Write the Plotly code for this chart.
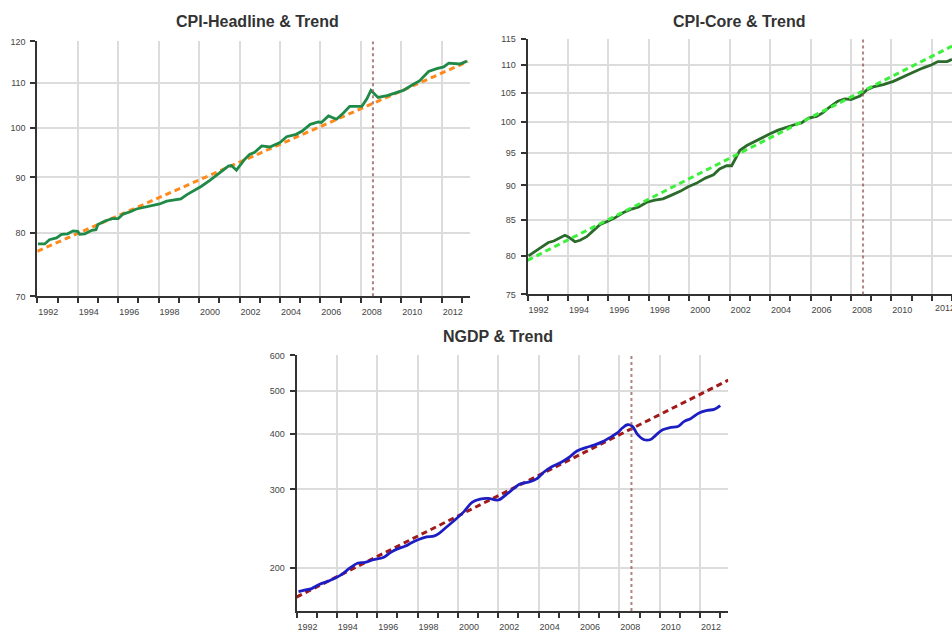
import plotly.graph_objects as go
import math

# ---------------- data (decimal years) ----------------
headline_year = [1992.03, 1992.37, 1992.6, 1992.95, 1993.2, 1993.5, 1993.77, 1994.0, 1994.1, 1994.35,
                 1994.7, 1994.9, 1995.0, 1995.35, 1995.7, 1996.0, 1996.25, 1996.6, 1996.9, 1997.3,
                 1997.7, 1998.05, 1998.4, 1998.9, 1999.1, 1999.4, 1999.8, 2000.1, 2000.55, 2000.9,
                 2001.1, 2001.45, 2001.6, 2001.85, 2002.25, 2002.5, 2002.75, 2003.1, 2003.5, 2004.0,
                 2004.33, 2004.8, 2005.1, 2005.5, 2005.9, 2006.05, 2006.4, 2006.8, 2007.15, 2007.45,
                 2008.05, 2008.3, 2008.5, 2008.85, 2009.3, 2009.8, 2010.1, 2010.6, 2010.9, 2011.35,
                 2011.75, 2012.1, 2012.35, 2012.9, 2013.25]
headline_val = [78.2, 78.2, 78.9, 79.2, 79.8, 79.9, 80.4, 80.3, 79.8, 79.9,
                80.5, 80.6, 81.5, 82.1, 82.5, 82.5, 83.3, 83.7, 84.2, 84.5,
                84.8, 85.1, 85.6, 85.8, 86.0, 86.8, 87.7, 88.3, 89.5, 90.6,
                91.1, 92.2, 92.3, 91.4, 93.5, 94.5, 94.9, 96.2, 96.0, 96.9,
                98.1, 98.6, 99.3, 100.7, 101.2, 101.1, 102.5, 101.8, 103.2, 104.6,
                104.6, 106.3, 108.2, 106.6, 107.0, 107.8, 108.2, 109.6, 110.4, 112.6,
                113.3, 113.7, 114.6, 114.4, 115.1]
headline_trend_year = [1992.0, 2013.3]
headline_trend_val = [77.0, 115.0]

core_year = [1992.05, 1992.45, 1992.7, 1993.03, 1993.3, 1993.6, 1993.85, 1994.0, 1994.35, 1994.6,
             1994.93, 1995.2, 1995.6, 1996.0, 1996.3, 1996.75, 1997.15, 1997.5, 1997.9, 1998.3,
             1998.7, 1999.1, 1999.55, 1999.95, 2000.35, 2000.8, 2001.2, 2001.5, 2001.85, 2002.1,
             2002.5, 2002.85, 2003.25, 2003.65, 2004.0, 2004.4, 2004.8, 2005.2, 2005.55, 2005.9,
             2006.3, 2006.6, 2006.95, 2007.35, 2007.7, 2008.0, 2008.45, 2008.8, 2009.1, 2009.6,
             2010.1, 2010.5, 2011.0, 2011.55, 2012.0, 2012.3, 2012.75, 2013.0]
core_val = [80.0, 80.7, 81.2, 81.8, 82.0, 82.4, 82.8, 82.6, 81.9, 82.1,
            82.6, 83.3, 84.3, 84.8, 85.2, 86.0, 86.5, 86.8, 87.5, 87.8,
            88.0, 88.5, 89.1, 89.8, 90.3, 91.1, 91.6, 92.5, 93.0, 93.0,
            95.4, 96.2, 96.9, 97.6, 98.1, 98.7, 99.2, 99.6, 99.9, 100.7,
            101.0, 101.6, 102.6, 103.6, 104.0, 103.9, 104.5, 105.6, 106.1, 106.5,
            107.1, 107.7, 108.6, 109.5, 110.1, 110.7, 110.7, 111.1]
core_trend_year = [1992.0, 2013.0]
core_trend_val = [79.4, 113.6]

ngdp_year = [1992.1, 1992.4, 1992.75, 1993.15, 1993.6, 1993.9, 1994.25, 1994.65, 1995.05, 1995.4,
             1995.8, 1996.3, 1996.65, 1996.95, 1997.4, 1997.7, 1998.05, 1998.45, 1998.8, 1999.05,
             1999.45, 1999.85, 2000.3, 2000.7, 2001.1, 2001.5, 2002.0, 2002.45, 2002.75, 2003.1,
             2003.5, 2003.9, 2004.25, 2004.65, 2005.1, 2005.5, 2005.9, 2006.3, 2006.75, 2007.15,
             2007.5, 2007.9, 2008.15, 2008.4, 2008.65, 2008.9, 2009.2, 2009.55, 2009.8, 2010.15,
             2010.55, 2010.9, 2011.2, 2011.55, 2011.95, 2012.35, 2012.7, 2013.0]
ngdp_val = [176.9, 178.2, 179.7, 183.8, 186.9, 189.5, 193.4, 200.0, 205.1, 205.8,
            208.6, 211.0, 216.4, 220.1, 223.9, 227.7, 231.6, 234.8, 235.6, 238.8,
            247.4, 256.2, 267.5, 280.7, 285.5, 286.5, 284.1, 293.6, 301.1, 308.9,
            311.5, 316.8, 327.9, 337.5, 344.9, 353.9, 366.0, 372.1, 377.3, 383.7,
            391.6, 401.8, 412.2, 419.2, 415.7, 398.8, 388.5, 388.5, 397.0, 408.4,
            413.4, 415.4, 426.1, 433.2, 445.7, 451.6, 453.9, 462.9]
ngdp_trend_year = [1992.0, 2013.4]
ngdp_trend_val = [172.0, 528.0]

break_year = 2008.6

titles = ["CPI-Headline & Trend", "CPI-Core & Trend", "NGDP & Trend"]
headline_ticks = [70, 80, 90, 100, 110, 120]
core_ticks = [75, 80, 85, 90, 95, 100, 105, 110, 115]
ngdp_ticks = [200, 300, 400, 500, 600]
year_ticks = list(range(1992, 2014, 2))

# ---------------- figure ----------------
W, H = 952, 637
FONT = "Liberation Sans, Arial, sans-serif"
TICKFONT = dict(family=FONT, size=9, color="#444444")
fig = go.Figure()

dash = "6px,4px"
fig.add_trace(go.Scatter(x=headline_trend_year, y=headline_trend_val, mode="lines",
                         line=dict(color="#ff8a1c", width=3, dash=dash), xaxis="x", yaxis="y"))
fig.add_trace(go.Scatter(x=headline_year, y=headline_val, mode="lines",
                         line=dict(color="#1f8a47", width=2.8), xaxis="x", yaxis="y"))
fig.add_trace(go.Scatter(x=core_year, y=core_val, mode="lines",
                         line=dict(color="#2c6a2c", width=2.8), xaxis="x2", yaxis="y2"))
fig.add_trace(go.Scatter(x=core_trend_year, y=core_trend_val, mode="lines",
                         line=dict(color="#3cf03c", width=3, dash=dash), xaxis="x2", yaxis="y2"))
fig.add_trace(go.Scatter(x=ngdp_trend_year, y=ngdp_trend_val, mode="lines",
                         line=dict(color="#a11a1a", width=3, dash=dash), xaxis="x3", yaxis="y3"))
fig.add_trace(go.Scatter(x=ngdp_year, y=ngdp_val, mode="lines", line_shape="spline",
                         line=dict(color="#1d1dc4", width=2.8), xaxis="x3", yaxis="y3"))


def px_x(a, b):
    return [a / W, b / W]


def px_y(top, bottom):
    return [(H - bottom) / H, (H - top) / H]


axis_common = dict(showline=True, linecolor="#333333", linewidth=2, ticks="outside",
                   ticklen=5, tickwidth=1.5, tickcolor="#333333",
                   gridcolor="#dcdcdc", gridwidth=2, showgrid=True, zeroline=False,
                   tickfont=TICKFONT, fixedrange=True)


def xaxis(domain, rng, anchor):
    return dict(axis_common, domain=domain, range=rng, anchor=anchor,
                tickmode="array", tickvals=year_ticks, ticktext=[str(y) for y in year_ticks],
                ticklabelshift=11, ticklabelstandoff=1,
                minor=dict(tickmode="linear", tick0=1993, dtick=2, ticks="outside",
                           ticklen=5, tickwidth=1.5, tickcolor="#333333", showgrid=False))


def yaxis(domain, lo, hi, vals, anchor):
    return dict(axis_common, domain=domain, type="log",
                range=[math.log10(lo), math.log10(hi)], anchor=anchor,
                tickmode="array", tickvals=vals, ticktext=[str(v) for v in vals],
                ticklabelstandoff=3)


fig.update_layout(
    width=W, height=H, margin=dict(l=0, r=0, t=0, b=0),
    paper_bgcolor="white", plot_bgcolor="white", showlegend=False,
    xaxis=xaxis(px_x(37.3, 470), [1992, 2013.4], "y"),
    yaxis=yaxis(px_y(37, 296), 70, 120, headline_ticks, "x"),
    xaxis2=xaxis(px_x(527.5, 952), [1992, 2013.0], "y2"),
    yaxis2=yaxis(px_y(34.3, 294), 75, 115, core_ticks, "x2"),
    xaxis3=xaxis(px_x(296.5, 728.3), [1992, 2013.4], "y3"),
    yaxis3=yaxis(px_y(356, 615.7), 160, 600, ngdp_ticks, "x3"),
)

# last year label of the right-hand chart, which runs past the page edge
fig.add_annotation(text=str(year_ticks[-1]), x=year_ticks[-1], xref="x2", y=0, yref="y2 domain",
                   xanchor="left", yanchor="top", xshift=1, yshift=-7, showarrow=False,
                   font=TICKFONT)

for xr, yr in [("x", "y"), ("x2", "y2"), ("x3", "y3")]:
    fig.add_shape(type="line", xref=xr, yref=yr + " domain", x0=break_year, x1=break_year,
                  y0=0, y1=1, line=dict(color="rgba(150,90,90,0.75)", width=2, dash="3px,3px"),
                  layer="above")

title_pos = [(257, 17), (739, 17), (498, 337)]
for t, (cx, cy) in zip(titles, title_pos):
    fig.add_annotation(text="<b>" + t + "</b>", x=cx / W, y=(H - cy) / H, xref="paper", yref="paper",
                       showarrow=False, xanchor="center", yanchor="middle",
                       font=dict(family=FONT, size=16, color="#333333"))

fig.write_html("out.html")
